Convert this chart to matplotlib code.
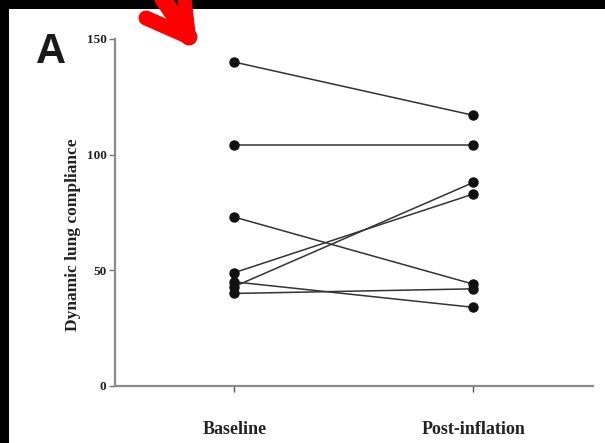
import matplotlib.pyplot as plt
from matplotlib.patches import Rectangle
from matplotlib.lines import Line2D

groups = ["Baseline", "Post-inflation"]
baseline = [140, 104, 73, 49, 43, 45, 40]
post_inflation = [117, 104, 44, 83, 88, 34, 42]
y_ticks = [0, 50, 100, 150]

W, H = 605, 443

fig = plt.figure(figsize=(W / 100, H / 100), dpi=100)
fig.patch.set_facecolor("white")
ax = fig.add_axes([0.190, 0.1287, 0.790, 0.7833])

for b, p in zip(baseline, post_inflation):
    ax.plot([0, 1], [b, p], color="#333333", linewidth=1.1, marker="o",
            markersize=6.5, markerfacecolor="#111111", markeredgecolor="#111111",
            solid_capstyle="butt", clip_on=False)

ax.set_xlim(-0.5, 1.5)
ax.set_ylim(0, 150)
ax.set_xticks([0, 1])
ax.set_xticklabels(groups, family="Liberation Serif", fontweight="bold",
                   fontsize=13, color="#222222")
ax.set_yticks(y_ticks)
ax.set_yticklabels([str(v) for v in y_ticks], family="Liberation Serif",
                   fontweight="bold", fontsize=9.5, color="#222222")
ax.tick_params(axis="x", length=4, width=1, color="#555555", pad=21)
ax.tick_params(axis="y", length=4, width=1, color="#777777", pad=2)
ax.set_ylabel("Dynamic lung compliance", family="Liberation Serif",
              fontweight="bold", fontsize=12.5, color="#222222")
ax.yaxis.set_label_coords(-0.072, 0.435)

for side in ["top", "right"]:
    ax.spines[side].set_visible(False)
for side in ["left", "bottom"]:
    ax.spines[side].set_color("#8a8a8a")
    ax.spines[side].set_linewidth(1.6)

fig.text(0.059, 0.858, "A", family="Liberation Sans", fontweight="bold",
         fontsize=30, color="#1a1a1a", ha="left", va="baseline")

# black frame strips on top and left
fig.add_artist(Rectangle((0, 0.980), 1, 0.02, transform=fig.transFigure,
                         facecolor="black", edgecolor="none", zorder=5))
fig.add_artist(Rectangle((0, 0), 0.0149, 1, transform=fig.transFigure,
                         facecolor="black", edgecolor="none", zorder=5))


# red hand-drawn style arrow (image pixel coords, y from top)
def red_stroke(x0, y0, x1, y1, width_px):
    fig.add_artist(Line2D([x0 / W, x1 / W], [1 - y0 / H, 1 - y1 / H],
                          transform=fig.transFigure, color="#ff0000",
                          linewidth=width_px * 0.72, solid_capstyle="round",
                          zorder=6))


tip = (189, 37)
red_stroke(tip[0], tip[1], 150, -20, 17)
red_stroke(tip[0], tip[1], 146, 18, 15)
red_stroke(tip[0], tip[1], 183, -15, 14)

fig.savefig("out.png", dpi=100, facecolor="white")
